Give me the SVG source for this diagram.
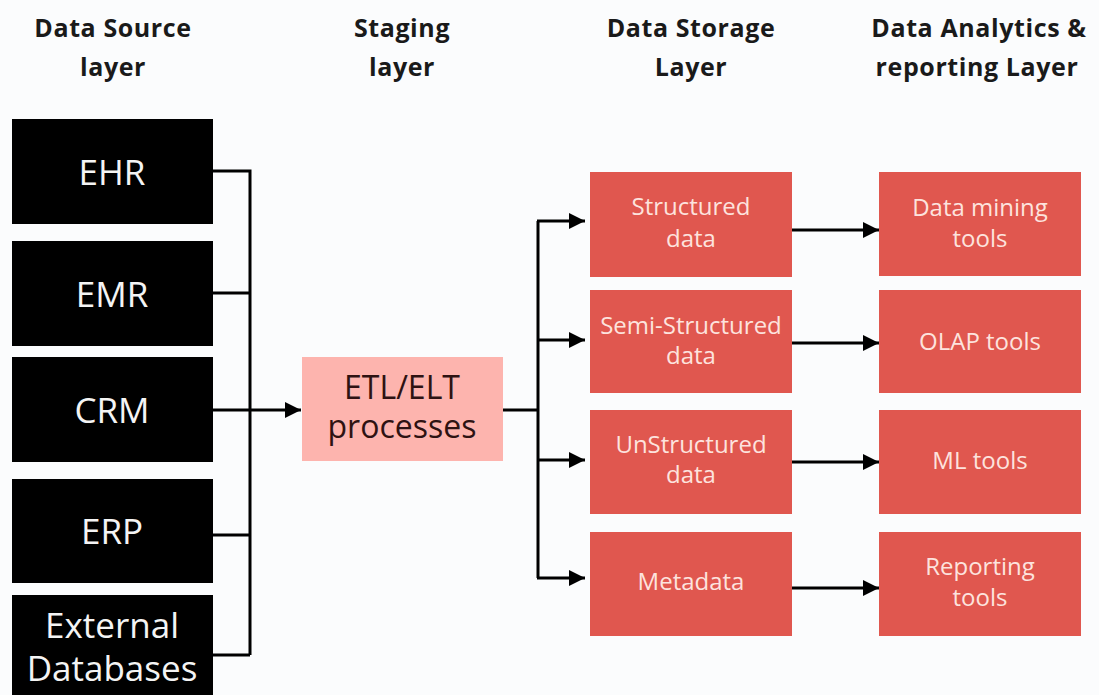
<svg xmlns="http://www.w3.org/2000/svg" width="1099" height="695" viewBox="0 0 1099 695">
<defs>
<style>
.hdr{font-family:"Open Sans","Liberation Sans",sans-serif;font-weight:700;font-size:25px;letter-spacing:0.6px;fill:#1a1a1a;text-anchor:middle}
.src{fill:#000}
.srct{font-family:"Open Sans","Liberation Sans",sans-serif;font-size:35px;fill:#f4f4f4;text-anchor:middle}
.etl{fill:#fdb4ae}
.etlt{font-family:"Open Sans","Liberation Sans",sans-serif;font-size:32px;fill:#2e1212;text-anchor:middle}
.red{fill:#e0574f}
.redt{font-family:"Open Sans","Liberation Sans",sans-serif;font-size:24px;fill:#fde3de;text-anchor:middle}
.ln{fill:none;stroke:#000;stroke-width:3}
</style>
<marker id="ah" markerUnits="userSpaceOnUse" markerWidth="18" markerHeight="18" refX="16" refY="9" orient="auto">
<path d="M0,1 L16,9 L0,17 Z" fill="#000"/>
</marker>
</defs>
<rect width="1099" height="695" fill="#fbfcfd"/>
<g id="headers">
<text class="hdr" x="113" y="37">Data Source</text>
<text class="hdr" x="113" y="76">layer</text>
<text class="hdr" x="402" y="37">Staging</text>
<text class="hdr" x="402" y="76">layer</text>
<text class="hdr" x="691" y="37">Data Storage</text>
<text class="hdr" x="691" y="76">Layer</text>
<text class="hdr" x="979" y="37">Data Analytics &amp;</text>
<text class="hdr" x="977" y="76">reporting Layer</text>
</g>
<g id="connectors">
<path class="ln" d="M213,171 H250 V655 M213,293 H250 M213,535 H250 M213,655 H250"/>
<path class="ln" d="M213,410 H301" marker-end="url(#ah)"/>
<path class="ln" d="M503,410 H538 M538,221 V578"/>
<path class="ln" d="M537,221 H585" marker-end="url(#ah)"/>
<path class="ln" d="M538,340 H585" marker-end="url(#ah)"/>
<path class="ln" d="M538,460 H585" marker-end="url(#ah)"/>
<path class="ln" d="M537,578 H585" marker-end="url(#ah)"/>
<path class="ln" d="M792,230 H879" marker-end="url(#ah)"/>
<path class="ln" d="M792,343 H879" marker-end="url(#ah)"/>
<path class="ln" d="M792,462 H879" marker-end="url(#ah)"/>
<path class="ln" d="M792,588 H879" marker-end="url(#ah)"/>
</g>
<g id="ehr"><rect class="src" x="12" y="119" width="201" height="105"/><text class="srct" x="112" y="185">EHR</text></g>
<g id="emr"><rect class="src" x="12" y="241" width="201" height="105"/><text class="srct" x="112" y="307">EMR</text></g>
<g id="crm"><rect class="src" x="12" y="357" width="201" height="105"/><text class="srct" x="112" y="423">CRM</text></g>
<g id="erp"><rect class="src" x="12" y="479" width="201" height="104"/><text class="srct" x="112" y="544">ERP</text></g>
<g id="external"><rect class="src" x="12" y="595" width="201" height="110"/><text class="srct" x="112" y="638">External</text><text class="srct" x="112" y="681">Databases</text></g>
<g id="etl"><rect class="etl" x="302" y="357" width="201" height="104"/><text class="etlt" x="402" y="399">ETL/ELT</text><text class="etlt" x="402" y="438">processes</text></g>
<g id="structured"><rect class="red" x="590" y="172" width="202" height="105"/><text class="redt" x="691" y="215">Structured</text><text class="redt" x="691" y="247">data</text></g>
<g id="semi"><rect class="red" x="590" y="290" width="202" height="103"/><text class="redt" x="691" y="334">Semi-Structured</text><text class="redt" x="691" y="364">data</text></g>
<g id="unstructured"><rect class="red" x="590" y="410" width="202" height="104"/><text class="redt" x="691" y="453">UnStructured</text><text class="redt" x="691" y="483">data</text></g>
<g id="metadata"><rect class="red" x="590" y="532" width="202" height="104"/><text class="redt" x="691" y="590">Metadata</text></g>
<g id="mining"><rect class="red" x="879" y="172" width="202" height="104"/><text class="redt" x="980" y="216">Data mining</text><text class="redt" x="980" y="247">tools</text></g>
<g id="olap"><rect class="red" x="879" y="290" width="202" height="103"/><text class="redt" x="980" y="350">OLAP tools</text></g>
<g id="ml"><rect class="red" x="879" y="410" width="202" height="104"/><text class="redt" x="980" y="469">ML tools</text></g>
<g id="reporting"><rect class="red" x="879" y="532" width="202" height="104"/><text class="redt" x="980" y="575">Reporting</text><text class="redt" x="980" y="606">tools</text></g>
</svg>
